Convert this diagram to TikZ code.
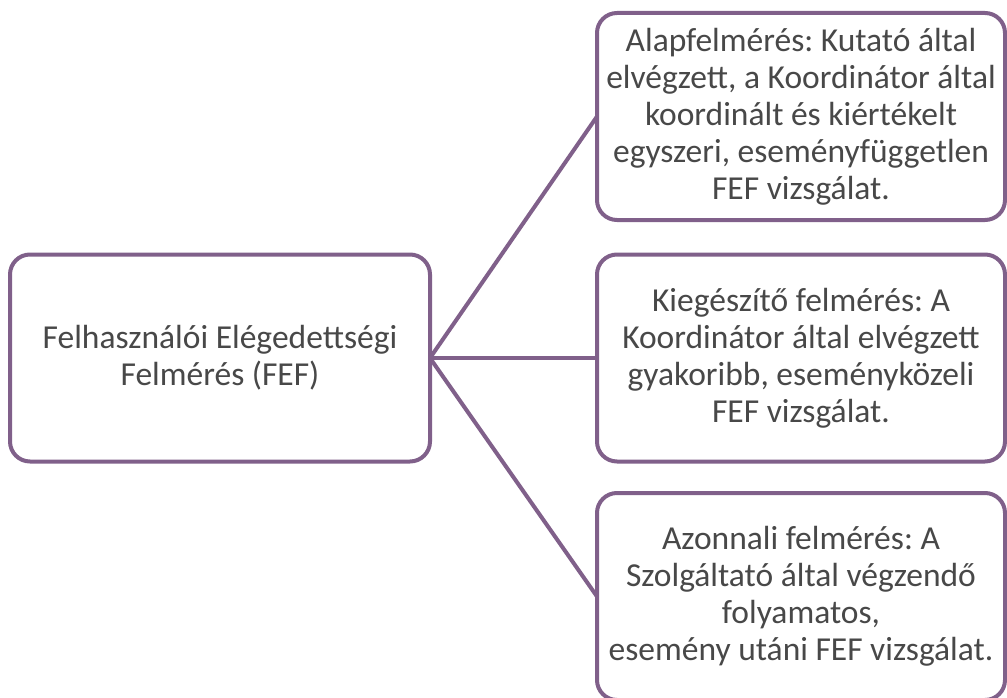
\documentclass[tikz,border=0pt]{standalone}
\usepackage{fontspec}
\setmainfont{Carlito}
\frenchspacing
\definecolor{boxpurple}{RGB}{128,96,138}
\definecolor{txtgray}{RGB}{72,72,72}
\begin{document}
\begin{tikzpicture}[x=1pt,y=-1pt,
  box/.style={draw=boxpurple, line width=4pt, rounded corners=20pt, fill=white,
    minimum height=207pt, align=center, text=txtgray, inner sep=0pt, outer sep=0pt,
    font=\fontsize{33.5}{37}\selectfont\frenchspacing},
  conn/.style={draw=boxpurple, line width=4pt}]
\useasboundingbox (0,0) rectangle (1007,698);
\clip (0,0) rectangle (1007,698);
\node[box, minimum width=420pt] (L) at (220,358) {Felhasználói Elégedettségi\\Felmérés (FEF)};
\node[box, minimum width=408pt] (T) at (801,116.5) {Alapfelmérés: Kutató által\\elvégzett, a Koordinátor által\\koordinált és kiértékelt\\egyszeri, eseményfüggetlen\\FEF vizsgálat.};
\node[box, minimum width=408pt] (M) at (801,358) {Kiegészítő felmérés: A\\Koordinátor által elvégzett\\gyakoribb, eseményközeli\\FEF vizsgálat.};
\node[box, minimum width=408pt] (B) at (801,596.5) {Azonnali felmérés: A\\Szolgáltató által végzendő\\folyamatos,\\esemény utáni FEF vizsgálat.};
\draw[conn] (L.east) -- (T.west);
\draw[conn] (L.east) -- (M.west);
\draw[conn] (L.east) -- (B.west);
\end{tikzpicture}
\end{document}
